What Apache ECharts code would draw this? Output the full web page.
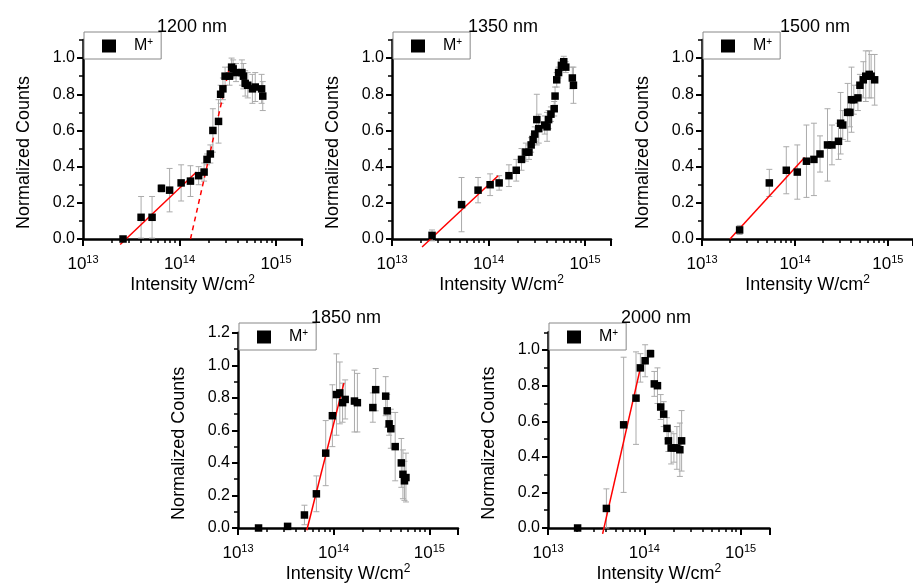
<!DOCTYPE html>
<html><head><meta charset="utf-8">
<script src="https://cdn.jsdelivr.net/npm/echarts@6/dist/echarts.min.js"></script>
<style>html,body{margin:0;padding:0;background:#fff}#c{width:913px;height:584px}</style>
</head><body><div id="c"></div>
<script>
// ---------- DATA ----------
const panelTitles = ['1200 nm', '1350 nm', '1500 nm', '1850 nm', '2000 nm'];
const legendName = 'M+';
const xTickExponents = [13, 14, 15];
const yTickLabels = [0, 0.2, 0.4, 0.6, 0.8, 1.0];
const yTickLabels1850 = [0, 0.2, 0.4, 0.6, 0.8, 1.0, 1.2];

const intensity1200 = [2.6e13, 4.0e13, 5.2e13, 6.5e13, 7.9e13, 1.04e14, 1.3e14, 1.58e14, 1.8e14, 1.93e14, 2.09e14, 2.22e14, 2.54e14, 2.67e14, 2.82e14, 2.97e14, 3.3e14, 3.47e14, 3.6e14, 3.86e14, 4.44e14, 4.6e14, 4.8e14, 5.1e14, 5.7e14, 6.1e14, 7.1e14, 7.3e14];
const counts1200 = [0.00, 0.12, 0.12, 0.28, 0.27, 0.31, 0.32, 0.35, 0.37, 0.44, 0.47, 0.60, 0.65, 0.80, 0.83, 0.90, 0.90, 0.95, 0.94, 0.92, 0.92, 0.90, 0.86, 0.85, 0.83, 0.84, 0.83, 0.79];
const err1200 = [0.01, 0.115, 0.115, 0.02, 0.12, 0.10, 0.085, 0.05, 0.05, 0.03, 0.05, 0.12, 0.12, 0.05, 0.06, 0.05, 0.05, 0.05, 0.05, 0.05, 0.07, 0.07, 0.07, 0.07, 0.08, 0.08, 0.08, 0.08];
const fit1200 = [[2.43e13, -0.03], [1.5e14, 0.37]];
const fit1200Dashed = [[1.3e14, 0.0], [3.3e14, 0.95]];

const intensity1350 = [2.6e13, 5.26e13, 7.8e13, 1.04e14, 1.29e14, 1.63e14, 1.94e14, 2.2e14, 2.44e14, 2.63e14, 2.77e14, 2.9e14, 3.02e14, 3.17e14, 3.32e14, 3.83e14, 4.05e14, 4.2e14, 4.44e14, 4.8e14, 4.9e14, 5.1e14, 5.33e14, 5.7e14, 6.03e14, 6.33e14, 7.4e14, 7.6e14];
const counts1350 = [0.02, 0.19, 0.27, 0.30, 0.31, 0.35, 0.38, 0.44, 0.48, 0.48, 0.52, 0.55, 0.58, 0.66, 0.61, 0.63, 0.62, 0.66, 0.69, 0.72, 0.79, 0.88, 0.92, 0.96, 0.98, 0.95, 0.89, 0.85];
const err1350 = [0.03, 0.15, 0.07, 0.06, 0.04, 0.06, 0.06, 0.06, 0.05, 0.04, 0.04, 0.03, 0.04, 0.14, 0.08, 0.05, 0.08, 0.05, 0.04, 0.04, 0.05, 0.04, 0.03, 0.03, 0.03, 0.03, 0.06, 0.10];
const fit1350 = [[2.05e13, -0.044], [1.26e14, 0.35]];

const intensity1500 = [2.54e13, 5.3e13, 8.07e13, 1.06e14, 1.33e14, 1.6e14, 1.86e14, 2.24e14, 2.5e14, 2.94e14, 3.1e14, 3.27e14, 3.69e14, 3.9e14, 4.06e14, 4.3e14, 4.76e14, 5.0e14, 5.44e14, 5.78e14, 6.3e14, 6.6e14, 7.2e14];
const counts1500 = [0.05, 0.31, 0.38, 0.37, 0.43, 0.44, 0.47, 0.52, 0.52, 0.54, 0.64, 0.63, 0.70, 0.70, 0.77, 0.77, 0.78, 0.85, 0.88, 0.90, 0.91, 0.90, 0.88];
const err1500 = [0.025, 0.075, 0.13, 0.15, 0.20, 0.20, 0.10, 0.20, 0.11, 0.10, 0.17, 0.08, 0.16, 0.08, 0.18, 0.08, 0.07, 0.06, 0.10, 0.14, 0.13, 0.12, 0.14];
const fit1500 = [[2.0e13, 0.0], [1.27e14, 0.45]];

const intensity1850 = [1.64e13, 3.3e13, 4.95e13, 6.6e13, 8.26e13, 9.7e13, 1.07e14, 1.16e14, 1.24e14, 1.32e14, 1.65e14, 1.77e14, 2.57e14, 2.75e14, 3.5e14, 3.63e14, 3.8e14, 3.96e14, 4.4e14, 5.1e14, 5.3e14, 5.5e14, 5.7e14];
const counts1850 = [0.00, 0.01, 0.08, 0.21, 0.46, 0.69, 0.82, 0.83, 0.77, 0.79, 0.78, 0.77, 0.74, 0.85, 0.81, 0.72, 0.64, 0.61, 0.50, 0.40, 0.33, 0.29, 0.31];
const err1850 = [0.005, 0.015, 0.06, 0.11, 0.20, 0.19, 0.25, 0.19, 0.12, 0.12, 0.19, 0.18, 0.09, 0.13, 0.12, 0.10, 0.07, 0.12, 0.21, 0.15, 0.15, 0.12, 0.15];
const fit1850 = [[5.24e13, -0.014], [1.28e14, 0.89]];

const intensity2000 = [2.03e13, 4.04e13, 6.1e13, 8.2e13, 9.1e13, 1.02e14, 1.16e14, 1.27e14, 1.37e14, 1.48e14, 1.59e14, 1.72e14, 1.78e14, 1.9e14, 2.03e14, 2.18e14, 2.34e14, 2.44e14];
const counts2000 = [0.00, 0.11, 0.58, 0.73, 0.90, 0.94, 0.98, 0.81, 0.80, 0.68, 0.64, 0.56, 0.49, 0.45, 0.45, 0.45, 0.44, 0.49];
const err2000 = [0.005, 0.11, 0.38, 0.26, 0.08, 0.09, 0.02, 0.07, 0.10, 0.07, 0.07, 0.06, 0.06, 0.09, 0.08, 0.12, 0.15, 0.17];
const fit2000 = [[3.69e13, -0.033], [9.2e13, 0.91]];

// ---------- LAYOUT ----------
const FONT = 'Liberation Sans, Arial, Helvetica, sans-serif';
const panels = [
  {t: panelTitles[0], x: intensity1200, y: counts1200, e: err1200, fits: [[fit1200, false], [fit1200Dashed, true]],
   grid: {left: 83, top: 40, width: 219, height: 199}, xMax: 15.27, yMax: 1.1, yLabels: yTickLabels,
   title: [192, 18], legend: [84, 32]},
  {t: panelTitles[1], x: intensity1350, y: counts1350, e: err1350, fits: [[fit1350, false]],
   grid: {left: 392, top: 40, width: 219, height: 199}, xMax: 15.27, yMax: 1.1, yLabels: yTickLabels,
   title: [503, 18], legend: [393, 32]},
  {t: panelTitles[2], x: intensity1500, y: counts1500, e: err1500, fits: [[fit1500, false]],
   grid: {left: 702, top: 40, width: 219, height: 199}, xMax: 15.27, yMax: 1.1, yLabels: yTickLabels,
   title: [815, 18], legend: [703, 32]},
  {t: panelTitles[3], x: intensity1850, y: counts1850, e: err1850, fits: [[fit1850, false]],
   grid: {left: 238, top: 332.7, width: 220, height: 198}, xMax: 15.30, yMax: 1.2, yLabels: yTickLabels1850,
   title: [346, 309], legend: [239, 323]},
  {t: panelTitles[4], x: intensity2000, y: counts2000, e: err2000, fits: [[fit2000, false]],
   grid: {left: 548, top: 332.3, width: 221.5, height: 200}, xMax: 15.30, yMax: 1.1, yLabels: yTickLabels,
   title: [656, 309], legend: [549, 323]}
];

const supRich = {
  b: {fontSize: 17, fontFamily: FONT, color: '#000', lineHeight: 20},
  s: {fontSize: 11, fontFamily: FONT, color: '#000', verticalAlign: 'top', lineHeight: 8}
};
const nameRich = {
  b: {fontSize: 18, fontFamily: FONT, color: '#000', lineHeight: 22},
  s: {fontSize: 12, fontFamily: FONT, color: '#000', verticalAlign: 'top', lineHeight: 10}
};

function minorX(max) {
  const out = [];
  for (let n = 13; n <= 15; n++) for (let k = 2; k <= 9; k++) {
    const v = Math.log10(k) + n;
    if (v < max) out.push(v);
  }
  return out;
}
function minorY(max) {
  const out = [];
  for (let v = 0.1; v < max + 1e-9; v += 0.2) out.push(+v.toFixed(1));
  return out;
}

const option = {
  animation: false,
  backgroundColor: '#fff',
  title: [], grid: [], xAxis: [], yAxis: [], legend: [], series: []
};

panels.forEach((p, i) => {
  option.grid.push(Object.assign({containLabel: false}, p.grid));
  option.title.push({
    text: p.t, left: p.title[0], top: p.title[1], textAlign: 'center', padding: 0,
    textStyle: {fontSize: 18, fontWeight: 'normal', fontFamily: FONT, color: '#000'}
  });
  // main x axis
  option.xAxis.push({
    type: 'value', gridIndex: i, min: 13, max: p.xMax, position: 'bottom',
    axisLine: {onZero: false, lineStyle: {color: '#000', width: 2.5}},
    axisTick: {show: true, customValues: xTickExponents.concat([p.xMax]), length: 7, lineStyle: {color: '#000', width: 2}},
    axisLabel: {customValues: xTickExponents, margin: 15, formatter: v => '{b|10}{s|' + Math.round(v) + '}', rich: supRich},
    splitLine: {show: false},
    name: '{b|Intensity W/cm}{s|2}', nameLocation: 'middle', nameGap: 35,
    nameTextStyle: {rich: nameRich}
  });
  // minor x ticks
  option.xAxis.push({
    type: 'value', gridIndex: i, min: 13, max: p.xMax, position: 'bottom',
    axisLine: {show: false, onZero: false},
    axisTick: {show: true, customValues: minorX(p.xMax), length: 4, lineStyle: {color: '#000', width: 1.5}},
    axisLabel: {show: false}, splitLine: {show: false}
  });
  // main y axis
  option.yAxis.push({
    type: 'value', gridIndex: i, min: 0, max: p.yMax, position: 'left',
    axisLine: {onZero: false, lineStyle: {color: '#000', width: 2.5}},
    axisTick: {show: true, customValues: p.yLabels, length: 6, lineStyle: {color: '#000', width: 2}},
    axisLabel: {customValues: p.yLabels, margin: 8, formatter: v => v.toFixed(1), fontSize: 16, fontFamily: FONT, color: '#000'},
    splitLine: {show: false},
    name: 'Normalized Counts', nameLocation: 'middle', nameGap: 50,
    nameTextStyle: {fontSize: 18, fontFamily: FONT, color: '#000', padding: [0, 26, 0, 0]}
  });
  option.yAxis.push({
    type: 'value', gridIndex: i, min: 0, max: p.yMax, position: 'left',
    axisLine: {show: false, onZero: false},
    axisTick: {show: true, customValues: minorY(p.yMax), length: 4, lineStyle: {color: '#000', width: 1.5}},
    axisLabel: {show: false}, splitLine: {show: false}
  });
  // error bars
  option.series.push({
    type: 'custom', name: 'err' + i, xAxisIndex: 2 * i, yAxisIndex: 2 * i, z: 2, silent: true,
    data: p.x.map((x, j) => [Math.log10(x), p.y[j] - p.e[j], p.y[j] + p.e[j]]),
    encode: {x: 0, y: [1, 2]},
    renderItem: (params, api) => {
      const x = api.value(0);
      const a = api.coord([x, api.value(2)]);
      const b = api.coord([x, api.value(1)]);
      const w = 3, st = {stroke: '#ababab', lineWidth: 1};
      return {type: 'group', children: [
        {type: 'line', shape: {x1: a[0], y1: a[1], x2: b[0], y2: b[1]}, style: st},
        {type: 'line', shape: {x1: a[0] - w, y1: a[1], x2: a[0] + w, y2: a[1]}, style: st},
        {type: 'line', shape: {x1: b[0] - w, y1: b[1], x2: b[0] + w, y2: b[1]}, style: st}
      ]};
    }
  });
  // fit lines
  p.fits.forEach(([f, dashed], k) => {
    option.series.push({
      type: 'line', name: 'fit' + i + '_' + k, xAxisIndex: 2 * i, yAxisIndex: 2 * i, z: 3,
      data: f.map(d => [Math.log10(d[0]), d[1]]), symbol: 'none', clip: false, silent: true,
      lineStyle: {color: '#ff0000', width: 1.5, type: dashed ? [5, 4] : 'solid'}
    });
  });
  // data points
  option.series.push({
    type: 'scatter', name: legendName, xAxisIndex: 2 * i, yAxisIndex: 2 * i, z: 4,
    data: p.x.map((x, j) => [Math.log10(x), p.y[j]]),
    symbol: 'rect', symbolSize: 7.5, itemStyle: {color: '#000', opacity: 1}
  });
  option.legend.push({
    left: p.legend[0], top: p.legend[1], orient: 'horizontal', selectedMode: false,
    data: [{name: legendName, icon: 'rect', itemStyle: {color: '#000', opacity: 1}}],
    itemWidth: 14, itemHeight: 13, padding: [5, 8, 5, 18],
    backgroundColor: '#fff', borderColor: '#888', borderWidth: 1, borderRadius: 0,
    formatter: () => '{g|}{m|M}{s|+}',
    textStyle: {rich: {
      g: {width: 13},
      m: {fontSize: 16, fontFamily: FONT, color: '#000', lineHeight: 18},
      s: {fontSize: 10, fontFamily: FONT, color: '#000', verticalAlign: 'top', lineHeight: 8}
    }}
  });
});

const chart = echarts.init(document.getElementById('c'), null, {renderer: 'canvas'});
chart.setOption(option);
</script>
</body></html>
